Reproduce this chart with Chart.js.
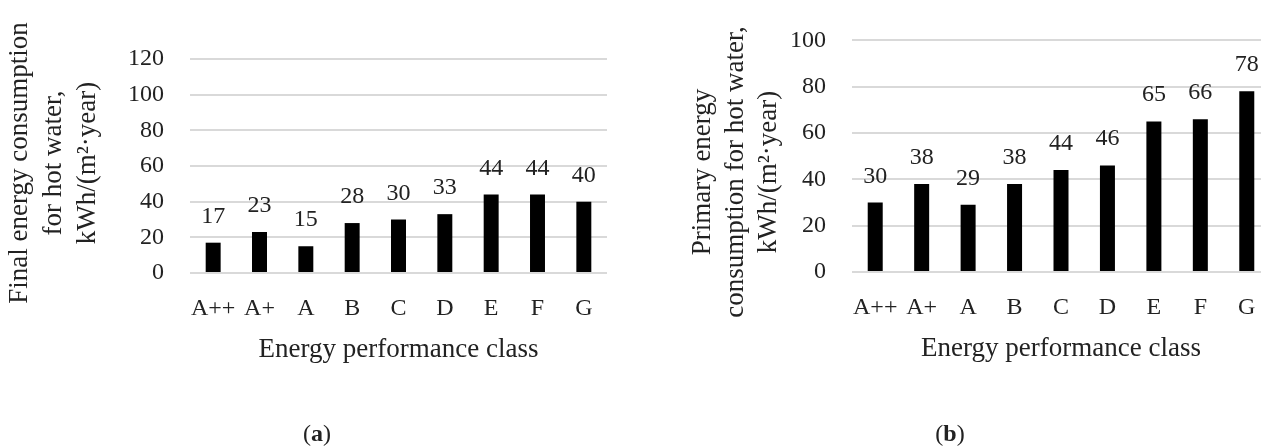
<!DOCTYPE html>
<html>
<head>
<meta charset="utf-8">
<title>Energy consumption for hot water</title>
<script src="https://cdn.jsdelivr.net/npm/chart.js@4.4.1/dist/chart.umd.min.js"></script>
<style>
  html, body { margin:0; padding:0; background:#fff; overflow:hidden; }
  body { width:1261px; height:447px; position:relative; font-family:"Liberation Serif", serif; }
  .painel { position:absolute; top:0; height:447px; }
  #painel-a { left:0; width:620px; }
  #painel-b { left:640px; width:640px; }
  .legenda { position:absolute; top:420px; font-size:24px; line-height:26px; color:#222; transform:translateX(-50%); }
  .legenda b { font-weight:bold; }
</style>
</head>
<body>
<div class="painel" id="painel-a"><canvas id="chart-final"></canvas></div>
<div class="painel" id="painel-b"><canvas id="chart-primary"></canvas></div>
<div class="legenda" style="left:317px">(<b>a</b>)</div>
<div class="legenda" style="left:950px">(<b>b</b>)</div>
<script>
// data
const classes = ['A++', 'A+', 'A', 'B', 'C', 'D', 'E', 'F', 'G'];
const finalEnergy = [17, 23, 15, 28, 30, 33, 44, 44, 40];
const primaryEnergy = [30, 38, 29, 38, 44, 46, 65, 66, 78];
const finalTicksMax = 120;
const primaryTicksMax = 100;
const xTitle = 'Energy performance class';
const finalTitle = ['Final energy consumption', 'for hot water,', 'kWh/(m²·year)'];
const primaryTitle = ['Primary energy', 'consumption for hot water,', 'kWh/(m²·year)'];

const FONT = '"Liberation Serif", "Times New Roman", serif';
const TEXT = '#222';
const GRID = '#d9d9d9';

// value above each bar
const valueLabels = {
  id: 'valueLabels',
  afterDatasetsDraw(chart) {
    const ctx = chart.ctx;
    const meta = chart.getDatasetMeta(0);
    const vals = chart.data.datasets[0].data;
    ctx.save();
    ctx.font = '24px ' + FONT;
    ctx.fillStyle = TEXT;
    ctx.textAlign = 'center';
    ctx.textBaseline = 'alphabetic';
    meta.data.forEach((bar, i) => ctx.fillText(String(vals[i]), bar.x, bar.y - 20));
    ctx.restore();
  }
};

// rotated multi-line y title
const yTitle = {
  id: 'yTitle',
  afterDraw(chart, args, opts) {
    if (!opts || !opts.lines) return;
    const ctx = chart.ctx;
    ctx.save();
    ctx.translate(opts.x, opts.y);
    ctx.rotate(-Math.PI / 2);
    ctx.font = '27px ' + FONT;
    ctx.fillStyle = TEXT;
    ctx.textAlign = 'center';
    ctx.textBaseline = 'middle';
    opts.lines.forEach((t, i) => ctx.fillText(t, 0, i * opts.gap));
    ctx.restore();
  }
};

function makeChart(id, values, yMax, cfg) {
  const ctx = document.getElementById(id).getContext('2d');
  return new Chart(ctx, {
    type: 'bar',
    data: { labels: classes, datasets: [{ data: values, backgroundColor: '#000', barPercentage: 0.323, categoryPercentage: 1 }] },
    options: {
      responsive: true, maintainAspectRatio: false, animation: false,
      layout: { padding: { top: cfg.top, bottom: cfg.bottom, left: 0, right: cfg.right } },
      plugins: {
        legend: { display: false }, tooltip: { enabled: false },
        yTitle: { lines: cfg.title, x: cfg.titleX, y: cfg.titleY, gap: cfg.gap }
      },
      scales: {
        x: {
          grid: { display: false },
          border: { display: false },
          ticks: { color: TEXT, font: { family: FONT, size: 24 }, padding: 13, maxRotation: 0, autoSkip: false },
          title: { display: true, text: xTitle, color: TEXT, font: { family: FONT, size: 27, lineHeight: 1.2 }, padding: { top: 0, bottom: 0 } },
          afterFit: s => { s.height = 93; }
        },
        y: {
          min: 0, max: yMax,
          grid: { color: GRID, lineWidth: 2, drawTicks: false },
          border: { display: false },
          ticks: { stepSize: 20, color: TEXT, font: { family: FONT, size: 24 }, padding: 26 },
          afterFit: s => { s.width = cfg.yWidth; }
        }
      }
    },
    plugins: [valueLabels, yTitle]
  });
}

makeChart('chart-final', finalEnergy, finalTicksMax,
  { top: 59, bottom: 81, right: 13, yWidth: 190, title: finalTitle, titleX: 20, titleY: 163, gap: 34 });
makeChart('chart-primary', primaryEnergy, primaryTicksMax,
  { top: 23, bottom: 82, right: 10, yWidth: 212, title: primaryTitle, titleX: 63, titleY: 172, gap: 33 });
</script>
</body>
</html>
